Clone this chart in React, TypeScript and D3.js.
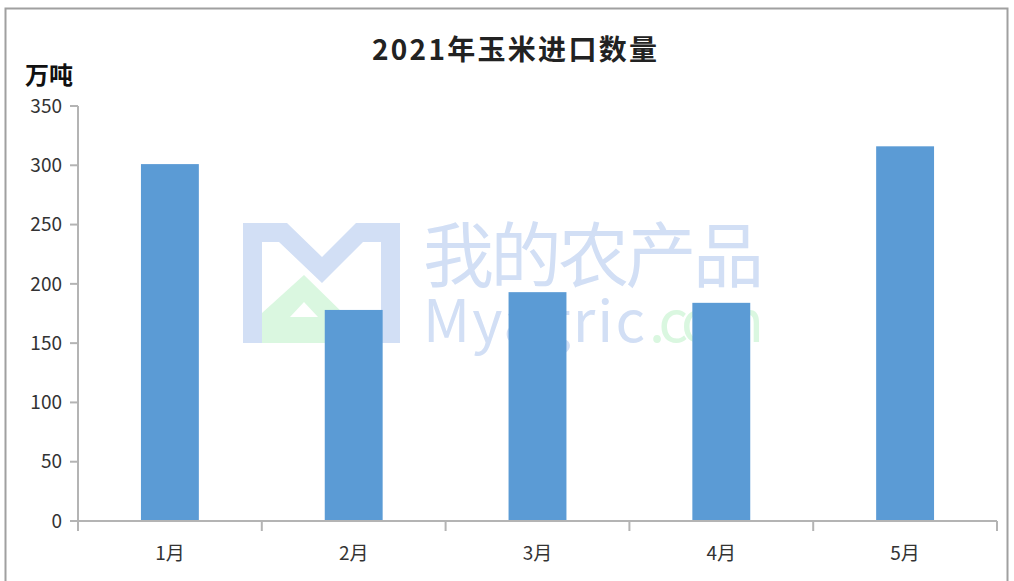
import * as d3 from 'd3';

const months = ['1月', '2月', '3月', '4月', '5月'];
const imports = [301, 178, 193, 184, 316];
const yTicks = [0, 50, 100, 150, 200, 250, 300, 350];

const width = 1014;
const height = 581;
const marginLeft = 78;
const marginRight = 17;
const marginTop = 106;
const marginBottom = 60;

const font = '"Noto Sans CJK SC", "Noto Sans", sans-serif';

export default function App() {
  const x = d3
    .scaleBand()
    .domain(months)
    .range([marginLeft, width - marginRight])
    .paddingInner(0.685)
    .paddingOuter(0.3425);
  const y = d3.scaleLinear([0, 350], [height - marginBottom, marginTop]);

  const step = x.step();
  const edges = d3.range(months.length + 1).map((i) => marginLeft + i * step);
  const y0 = y(0);

  return (
    <svg
      width={width}
      height={height}
      style={{ position: 'absolute', left: 0, top: 0, background: '#fff' }}
    >
      <rect x={5.5} y={8.5} width={1002} height={600} fill="#fff" stroke="#a0a0a0" strokeWidth="2" />

      {/* watermark */}
      <g>
        <polygon
          points="243,223 287,223 322,257 356,223 400,223 400,343 381,343 381,242 363,242 322,283 279,242 262,242 262,343 243,343"
          fill="#d2dff5"
        />
        <path
          d="M304,275 L350,320 L350,343 L262,343 L262,313 Z M304,302 L290,317 L318,317 Z"
          fill="#daf7e0"
          fillRule="evenodd"
        />
        <text x={423} y={281} fontSize="71" fill="#d2dff5" fontFamily={font} textLength={341}>
          我的农产品
        </text>
        <text x={423} y={342} fontSize="58" fill="#d2dff5" fontFamily={font} textLength={222}>
          Myagric
        </text>
        <text x={649} y={342} fontSize="58" fill="#daf7e0" fontFamily={font} textLength={115}>
          .com
        </text>
      </g>

      <text
        x={372}
        y={60}
        fontSize="28"
        fontWeight="bold"
        fontFamily={font}
        fill="#222"
        textLength={285}
      >
        2021年玉米进口数量
      </text>
      <text x={25} y={84} fontSize="24" fontWeight="bold" fontFamily={font} fill="#111">
        万吨
      </text>

      {months.map((m, i) => (
        <rect
          key={m}
          x={x(m)}
          y={y(imports[i])}
          width={x.bandwidth()}
          height={y0 - y(imports[i])}
          fill="#5b9bd5"
        />
      ))}

      <g stroke="#b4b4b4" strokeWidth="2" fill="none">
        <line x1={marginLeft} y1={marginTop} x2={marginLeft} y2={y0} />
        <line x1={marginLeft} y1={y0} x2={width - marginRight} y2={y0} />
        {yTicks.map((t) => (
          <line key={t} x1={marginLeft - 8} y1={y(t)} x2={marginLeft} y2={y(t)} />
        ))}
        {edges.map((e, i) => (
          <line key={i} x1={e} y1={y0} x2={e} y2={y0 + 10} />
        ))}
      </g>

      {yTicks.map((t) => (
        <text
          key={t}
          x={marginLeft - 16}
          y={y(t)}
          dy="0.35em"
          textAnchor="end"
          fontSize="19"
          fontFamily={font}
          fill="#333"
        >
          {t}
        </text>
      ))}
      {months.map((m) => (
        <text
          key={m}
          x={(x(m) ?? 0) + x.bandwidth() / 2}
          y={y0 + 39}
          textAnchor="middle"
          fontSize="19"
          fontFamily={font}
          fill="#333"
        >
          {m}
        </text>
      ))}
    </svg>
  );
}
